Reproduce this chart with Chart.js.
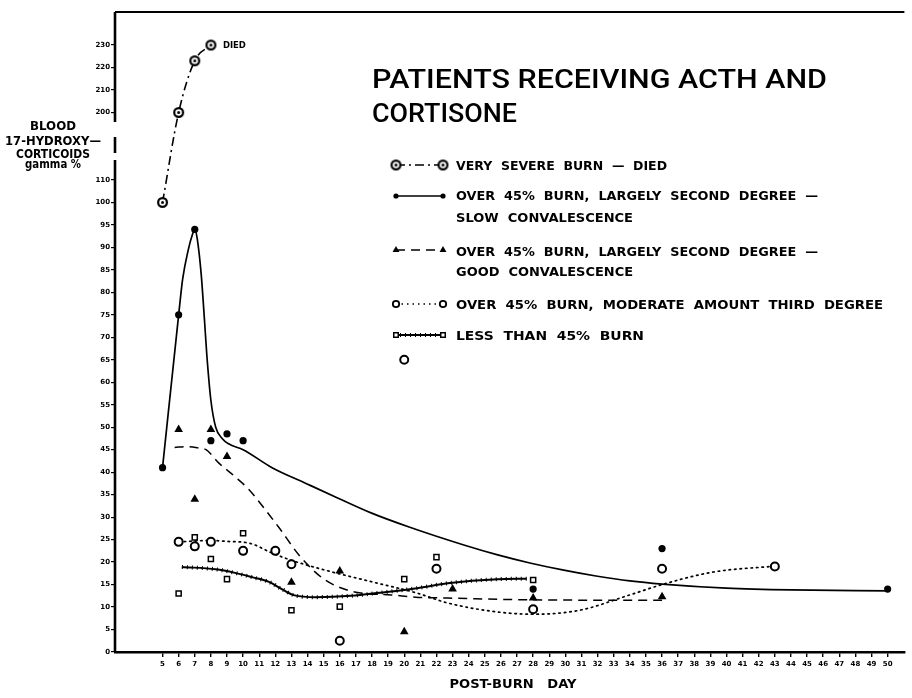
<!DOCTYPE html>
<html>
<head>
<meta charset="utf-8">
<script src="https://cdn.jsdelivr.net/npm/chart.js@4.4.1/dist/chart.umd.min.js"></script>
<style>
  html, body { margin: 0; padding: 0; background: #fff; }
</style>
</head>
<body>
<canvas id="myChart" width="912" height="698"></canvas>
<script>
// x axis: post-burn day
const xTickDays = [5, 6, 7, 8, 9, 10, 11, 12, 13, 14, 15, 16, 17, 18, 19, 20, 21, 22, 23, 24, 25, 26, 27, 28, 29,
  30, 31, 32, 33, 34, 35, 36, 37, 38, 39, 40, 41, 42, 43, 44, 45, 46, 47, 48, 49, 50];
// y axis: blood 17-hydroxycorticoids, gamma % (axis is broken between 110 and 200)
const yTickValues = [0, 5, 10, 15, 20, 25, 30, 35, 40, 45, 50, 55, 60, 65, 70, 75, 80, 85, 90, 95, 100, 110, 200, 210, 220, 230];

// very severe burn - died
const diedDays = [5, 6, 7, 8];
const diedValues = [100, 200, 223, 230];

// over 45% burn, largely second degree - slow convalescence
const slowDays = [5, 6, 7, 8, 9, 10, 28, 36, 50];
const slowValues = [41, 75, 94, 47, 48.5, 47, 14, 23, 14];
const slowCurveDays = [5, 6, 6.25, 6.6, 6.85, 7, 7.15, 7.4, 7.6, 7.75, 8, 8.3, 8.7, 9.1, 10, 11.8, 13.9, 15.9, 17.9, 20.3,
  23.7, 25.8, 27.8, 29.9, 31.9, 34, 36, 40, 44, 50];
const slowCurveValues = [41, 75, 83, 89.5, 92.8, 94, 92, 84, 74, 66, 56, 50, 47.5, 46.3, 45, 41, 37.5, 34.2, 31, 27.8,
  23.8, 21.6, 19.8, 18.2, 16.9, 15.8, 15.1, 14.2, 13.8, 13.6];

// over 45% burn, largely second degree - good convalescence
const goodDays = [6, 7, 8, 9, 13, 16, 20, 23, 28, 36];
const goodValues = [49.5, 34, 49.5, 43.5, 15.5, 18, 4.5, 14, 12, 12.3];
const goodCurveDays = [5.75, 6.5, 7.2, 7.7, 8.5, 9.5, 10.4, 11.3, 12.2, 13.6, 15.1, 17, 19.2, 20.7, 22.7, 28, 36];
const goodCurveValues = [45.5, 45.7, 45.4, 45, 42, 39, 36, 32, 27.8, 21, 16, 13.3, 12.7, 12.2, 12, 11.6, 11.5];

// over 45% burn, moderate amount third degree
const thirdDays = [6, 7, 8, 10, 12, 13, 16, 20, 22, 28, 36, 43];
const thirdValues = [24.5, 23.5, 24.5, 22.5, 22.5, 19.5, 2.5, 65, 18.5, 9.5, 18.5, 19];
const thirdCurveDays = [6, 8, 9, 10.4, 11.8, 13, 15.1, 18, 20.8, 22.7, 25.8, 28, 30.9, 34, 36, 39.2, 43];
const thirdCurveValues = [24.5, 24.8, 24.6, 24.2, 22, 20.4, 18.2, 15.6, 13.1, 10.9, 8.9, 8.4, 9.3, 12.7, 15, 17.8, 19.1];

// less than 45% burn
const lessDays = [6, 7, 8, 9, 10, 13, 16, 20, 22, 28];
const lessValues = [13, 25.5, 20.7, 16.2, 26.4, 9.3, 10.1, 16.2, 21.1, 16];
const lessCurveDays = [6.2, 8.3, 9.5, 10.6, 11.6, 12.4, 13.2, 14.5, 16.7, 18.5, 20.8, 22.7, 25.8, 27.6];
const lessCurveValues = [18.9, 18.4, 17.6, 16.6, 15.6, 14, 12.6, 12.2, 12.5, 13.2, 14.2, 15.3, 16.2, 16.3];

const chartTitle = ['PATIENTS RECEIVING ACTH AND', 'CORTISONE'];
const legendLabels = [
  ['VERY SEVERE BURN — DIED'],
  ['OVER 45% BURN, LARGELY SECOND DEGREE —', 'SLOW CONVALESCENCE'],
  ['OVER 45% BURN, LARGELY SECOND DEGREE —', 'GOOD CONVALESCENCE'],
  ['OVER 45% BURN, MODERATE AMOUNT THIRD DEGREE'],
  ['LESS THAN 45% BURN'],
];
const yTitle = ['BLOOD', '17-HYDROXY—', 'CORTICOIDS', 'gamma %'];
const xTitle = 'POST-BURN DAY';

// value -> position on the broken axis (one tick step per unit)
function toAxis(v) {
  if (v <= 100) return v / 5;
  if (v <= 110) return 20 + (v - 100) / 10;
  if (v < 200) return 21 + (v - 110) / 90 * 3;
  return 24 + (v - 200) / 10;
}
function fromAxis(a) {
  if (a <= 20) return a * 5;
  if (a <= 21) return 100 + (a - 20) * 10;
  if (a < 24) return 110 + (a - 21) / 3 * 90;
  return 200 + (a - 24) * 10;
}

class BrokenScale extends Chart.LinearScale {
  getPixelForValue(value) {
    return super.getPixelForValue(toAxis(value));
  }
  getValueForPixel(pixel) {
    return fromAxis(super.getValueForPixel(pixel));
  }
}
BrokenScale.id = 'brokenLinear';
BrokenScale.defaults = Chart.LinearScale.defaults;
Chart.register(BrokenScale);

function pts(xs, ys) {
  return xs.map((x, i) => ({ x: x, y: ys[i] }));
}

// circle with a dot inside
function makeRingDot() {
  const c = document.createElement('canvas');
  c.width = 13;
  c.height = 13;
  const g = c.getContext('2d');
  g.lineWidth = 2.2;
  g.strokeStyle = '#000';
  g.fillStyle = '#fff';
  g.beginPath();
  g.arc(6.5, 6.5, 4.4, 0, Math.PI * 2);
  g.fill();
  g.stroke();
  g.fillStyle = '#000';
  g.beginPath();
  g.arc(6.5, 6.5, 1.5, 0, Math.PI * 2);
  g.fill();
  return c;
}
const ringDot = makeRingDot();

const styles = {
  died: { dash: [9, 4, 2, 4], width: 1.6, point: { pointStyle: ringDot, radius: 6 }, fill: '#000' },
  slow: { dash: [], width: 1.7, point: { pointStyle: 'circle', radius: 2.6, borderWidth: 0 }, fill: '#000' },
  good: { dash: [9, 6], width: 1.5, point: { pointStyle: 'triangle', radius: 4, borderWidth: 0 }, fill: '#000' },
  third: { dash: [1.5, 4], width: 1.7, point: { pointStyle: 'circle', radius: 3.2, borderWidth: 1.8 }, fill: '#fff' },
  less: { dash: [], width: 2, point: { pointStyle: 'rect', radius: 3.2, borderWidth: 1.5 }, fill: '#fff' },
  lessTicks: { dash: [1, 4], width: 4 },
};

function fitText(ctx, text, x, y, width, font, center) {
  ctx.font = font;
  const w = ctx.measureText(text).width;
  ctx.save();
  ctx.translate(center ? x - width / 2 : x, y);
  ctx.scale(width / w, 1);
  ctx.textAlign = 'left';
  ctx.textBaseline = 'alphabetic';
  ctx.fillText(text, 0, 0);
  ctx.restore();
}

function drawSample(ctx, st, x1, x2, y, ticks) {
  ctx.save();
  ctx.strokeStyle = '#000';
  ctx.lineWidth = st.width;
  ctx.setLineDash(st.dash);
  ctx.beginPath();
  ctx.moveTo(x1, y);
  ctx.lineTo(x2, y);
  ctx.stroke();
  if (ticks) {
    ctx.lineWidth = styles.lessTicks.width;
    ctx.setLineDash(styles.lessTicks.dash);
    ctx.beginPath();
    ctx.moveTo(x1 + 4, y);
    ctx.lineTo(x2 - 4, y);
    ctx.stroke();
  }
  ctx.setLineDash([]);
  [x1, x2].forEach((x) => {
    ctx.fillStyle = st.fill;
    ctx.strokeStyle = '#000';
    ctx.lineWidth = st.point.borderWidth || 0;
    Chart.helpers.drawPoint(ctx, { pointStyle: st.point.pointStyle, radius: st.point.radius, rotation: 0, borderWidth: st.point.borderWidth || 0 }, x, y);
  });
  ctx.restore();
}

const paperPlugin = {
  id: 'paper',
  afterDraw(chart) {
    const ctx = chart.ctx;
    const area = chart.chartArea;
    ctx.save();
    ctx.strokeStyle = '#000';
    ctx.fillStyle = '#000';

    // top frame line
    ctx.lineWidth = 2;
    ctx.beginPath();
    ctx.moveTo(area.left, area.top);
    ctx.lineTo(area.right, area.top);
    ctx.stroke();

    // y axis line with the break
    ctx.lineWidth = 2.6;
    [[area.top, 122], [137, 153], [160, area.bottom]].forEach(([a, b]) => {
      ctx.beginPath();
      ctx.moveTo(area.left, a);
      ctx.lineTo(area.left, b);
      ctx.stroke();
    });

    // title
    fitText(ctx, chartTitle[0], 372, 88, 455, '500 25px "Roboto"');
    fitText(ctx, chartTitle[1], 372, 122, 145, '500 25px "Roboto"');

    // legend
    const rows = [
      { st: styles.died, y: 165, base: [170] },
      { st: styles.slow, y: 196, base: [200, 221.5] },
      { st: styles.good, y: 250, base: [255.5, 276] },
      { st: styles.third, y: 304, base: [309] },
      { st: styles.less, y: 335, base: [340], ticks: true },
    ];
    const widths = [[211], [362, 177], [362, 177], [427], [188]];
    rows.forEach((r, i) => {
      drawSample(ctx, r.st, 396, 443, r.y, r.ticks);
      legendLabels[i].forEach((t, j) => {
        ctx.fillStyle = '#000';
        fitText(ctx, t.split(' ').join('  '), 456, r.base[j], widths[i][j], 'bold 12px "DejaVu Sans"');
      });
    });

    // label next to last point of the died series
    const xs = chart.scales.x;
    const ys = chart.scales.y;
    const lastX = xs.getPixelForValue(diedDays[diedDays.length - 1]);
    const lastY = ys.getPixelForValue(diedValues[diedValues.length - 1]);
    fitText(ctx, 'DIED', lastX + 12, lastY + 3, 23, 'bold 8px "DejaVu Sans"');

    // axis titles
    const yBases = [130, 145, 157.5, 168];
    const yWidths = [46, 96, 74, 56];
    yTitle.forEach((t, i) => fitText(ctx, t, 53, yBases[i], yWidths[i], 'bold 12.5px "DejaVu Sans"', true));
    fitText(ctx, xTitle.split(' ').join('   '), 513, 688, 127, 'bold 11.5px "DejaVu Sans"', true);

    ctx.restore();
  },
};

const ctx = document.getElementById('myChart').getContext('2d');

function markerSet(label, xs, ys, st) {
  return {
    label: label,
    data: pts(xs, ys),
    showLine: false,
    pointStyle: st.point.pointStyle,
    pointRadius: st.point.radius,
    pointHoverRadius: st.point.radius,
    pointBackgroundColor: st.fill,
    pointBorderColor: '#000',
    pointBorderWidth: st.point.borderWidth || 0,
  };
}
function curveSet(label, xs, ys, st, extra) {
  return Object.assign({
    label: label,
    data: pts(xs, ys),
    borderColor: '#000',
    borderWidth: st.width,
    borderDash: st.dash,
    pointRadius: 0,
    pointHoverRadius: 0,
    fill: false,
    cubicInterpolationMode: 'monotone',
  }, extra || {});
}

const myChart = new Chart(ctx, {
  type: 'line',
  data: {
    datasets: [
      Object.assign(curveSet('Very severe burn — died', diedDays, diedValues, styles.died), {
        pointStyle: ringDot, pointRadius: 6, pointHoverRadius: 6,
      }),
      markerSet('Slow convalescence', slowDays, slowValues, { point: { pointStyle: 'circle', radius: 3.6 }, fill: '#000' }),
      markerSet('Good convalescence', goodDays, goodValues, { point: { pointStyle: 'triangle', radius: 5 }, fill: '#000' }),
      markerSet('Moderate third degree', thirdDays, thirdValues, { point: { pointStyle: 'circle', radius: 4, borderWidth: 2 }, fill: '#fff' }),
      markerSet('Less than 45%', lessDays, lessValues, { point: { pointStyle: 'rect', radius: 3.6, borderWidth: 1.5 }, fill: '#fff' }),
      curveSet('slow curve', slowCurveDays, slowCurveValues, styles.slow),
      curveSet('good curve', goodCurveDays, goodCurveValues, styles.good),
      curveSet('third curve', thirdCurveDays, thirdCurveValues, styles.third, { borderCapStyle: 'round' }),
      curveSet('less curve', lessCurveDays, lessCurveValues, styles.less),
      curveSet('less curve ticks', lessCurveDays, lessCurveValues, styles.lessTicks),
    ],
  },
  options: {
    responsive: false,
    animation: false,
    devicePixelRatio: 1,
    layout: { padding: { top: 12, left: 0, right: 0, bottom: 0 } },
    plugins: {
      legend: { display: false },
      tooltip: { enabled: false },
      title: { display: false },
    },
    scales: {
      x: {
        type: 'linear',
        min: 2.05,
        max: 51.04,
        border: { display: true, color: '#000', width: 2.6 },
        grid: { display: true, drawOnChartArea: false, drawTicks: true, tickLength: 5, color: '#000', lineWidth: 1.4 },
        ticks: {
          color: '#000',
          font: { family: 'DejaVu Sans', size: 7, weight: 'bold' },
          padding: 3,
          maxRotation: 0,
          autoSkip: false,
          callback: (v) => String(v),
        },
        afterBuildTicks: (scale) => {
          scale.ticks = xTickDays.map((d) => ({ value: d }));
        },
        afterFit: (scale) => {
          scale.height = 46;
        },
      },
      y: {
        type: 'brokenLinear',
        min: 0,
        max: 28.47,
        bounds: 'data',
        border: { display: false },
        grid: { display: true, drawOnChartArea: false, drawTicks: true, tickLength: 4, color: '#000', lineWidth: 1.2 },
        ticks: {
          color: '#000',
          font: { family: 'DejaVu Sans', size: 7, weight: 'bold' },
          padding: 1,
          autoSkip: false,
          callback: (v) => String(v),
        },
        afterBuildTicks: (scale) => {
          scale.ticks = yTickValues.map((v) => ({ value: v }));
        },
        afterFit: (scale) => {
          scale.width = 115;
        },
      },
    },
  },
  plugins: [paperPlugin],
});
</script>
</body>
</html>
